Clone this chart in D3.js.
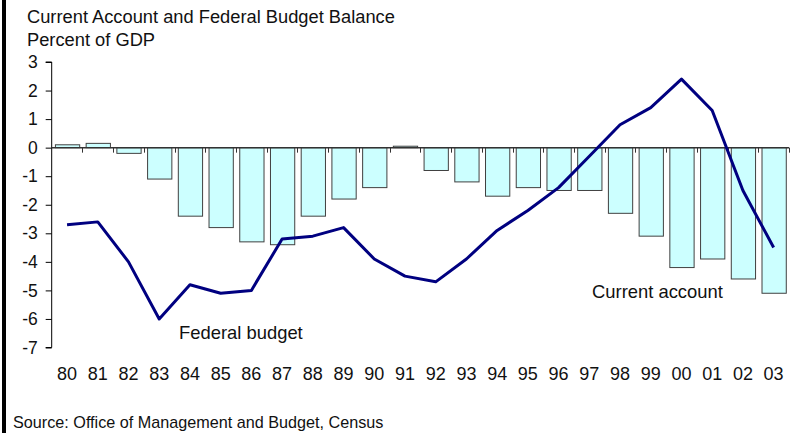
<!DOCTYPE html>
<html>
<head>
<meta charset="utf-8">
<script src="https://cdn.jsdelivr.net/npm/d3@7"></script>
<style>
  html, body { margin: 0; padding: 0; background: #fff; }
  svg { display: block; font-family: "Liberation Sans", Arial, sans-serif; }
</style>
</head>
<body>
<svg id="chart" width="796" height="433"></svg>
<script>
// Years shown along the bottom axis
const years = ["80","81","82","83","84","85","86","87","88","89","90","91",
               "92","93","94","95","96","97","98","99","00","01","02","03"];
// Current account balance, percent of GDP (bars)
const currentAccount = [0.1, 0.15, -0.2, -1.1, -2.4, -2.8, -3.3, -3.4, -2.4, -1.8, -1.4, 0.05,
                        -0.8, -1.2, -1.7, -1.4, -1.5, -1.5, -2.3, -3.1, -4.2, -3.9, -4.6, -5.1];
// Federal budget balance, percent of GDP (line)
const federalBudget = [-2.7, -2.6, -4.0, -6.0, -4.8, -5.1, -5.0, -3.2, -3.1, -2.8, -3.9, -4.5,
                       -4.7, -3.9, -2.9, -2.2, -1.4, -0.3, 0.8, 1.4, 2.4, 1.3, -1.5, -3.5];
const yTicks = [3, 2, 1, 0, -1, -2, -3, -4, -5, -6, -7];

const svg = d3.select("#chart");

// Plot frame
const plotLeft = 51.7, plotRight = 789, plotTop = 62, plotBottom = 347.5;

const x = d3.scaleBand().domain(years).range([plotLeft, plotRight]).paddingInner(0.21).paddingOuter(0.105);
const xb = d3.scaleBand().domain(years).range([plotLeft, plotRight]); // category boundaries
const y = d3.scaleLinear().domain([-7, 3]).range([plotBottom, plotTop]);

// Left border of the frame
svg.append("rect").attr("x", 2).attr("y", 0).attr("width", 4).attr("height", 433).attr("fill", "#000");

// Titles
svg.append("text").attr("x", 27).attr("y", 23).attr("font-size", 18.3).attr("fill", "#111")
  .text("Current Account and Federal Budget Balance");
svg.append("text").attr("x", 27).attr("y", 46).attr("font-size", 18.3).attr("fill", "#111")
  .text("Percent of GDP");

// Y axis
const yAxis = d3.axisLeft(y).tickValues(yTicks).tickSize(6).tickPadding(8).tickFormat(d3.format("d"));
const gy = svg.append("g").attr("transform", `translate(${plotLeft},0)`).call(yAxis);
gy.select(".domain").attr("stroke", "#000").attr("d", `M-6,${y(3)}H0V${y(-7)}H-6`);
gy.selectAll(".tick line").attr("stroke", "#000");
gy.selectAll(".tick text").attr("font-size", 17.5).attr("fill", "#111")
  .attr("font-family", "Liberation Sans, Arial, sans-serif")
  .text(d => d < 0 ? "-" + Math.abs(d) : d);

// Bars: current account
svg.append("g").selectAll("rect").data(currentAccount).join("rect")
  .attr("x", (d, i) => x(years[i]) + 0.5)
  .attr("width", x.bandwidth())
  .attr("y", d => y(Math.max(0, d)))
  .attr("height", d => Math.abs(y(d) - y(0)))
  .attr("fill", "#ccffff")
  .attr("stroke", "#404040")
  .attr("stroke-width", 1);

// Zero line with category ticks
const gx = svg.append("g").attr("transform", `translate(0,${y(0)})`);
gx.append("line").attr("x1", plotLeft).attr("x2", plotRight).attr("y1", 0).attr("y2", 0)
  .attr("stroke", "#333").attr("stroke-width", 1.5);
gx.selectAll("line.tk").data(years.slice(1).concat(["end"])).join("line").attr("class", "tk")
  .attr("x1", (d, i) => Math.round(i < years.length - 1 ? xb(d) : plotRight) + 0.5)
  .attr("x2", (d, i) => Math.round(i < years.length - 1 ? xb(d) : plotRight) + 0.5)
  .attr("y1", 0).attr("y2", 5).attr("stroke", "#333");

// Category labels along the bottom
svg.append("g").selectAll("text").data(years).join("text")
  .attr("x", d => xb(d) + xb.bandwidth() / 2)
  .attr("y", 380)
  .attr("text-anchor", "middle")
  .attr("font-size", 18)
  .attr("fill", "#111")
  .text(d => d);

// Federal budget line
const line = d3.line()
  .x((d, i) => xb(years[i]) + xb.bandwidth() / 2)
  .y(d => y(d));
svg.append("path").datum(federalBudget)
  .attr("d", line)
  .attr("fill", "none")
  .attr("stroke", "#000080")
  .attr("stroke-width", 3)
  .attr("stroke-linejoin", "round");

// Series labels
svg.append("text").attr("x", 179).attr("y", 339).attr("font-size", 18.4).attr("fill", "#111")
  .text("Federal budget");
svg.append("text").attr("x", 592).attr("y", 298).attr("font-size", 18.4).attr("fill", "#111")
  .text("Current account");

// Source note
svg.append("text").attr("x", 13).attr("y", 428).attr("font-size", 16.2).attr("fill", "#111")
  .text("Source: Office of Management and Budget, Census");
</script>
</body>
</html>
